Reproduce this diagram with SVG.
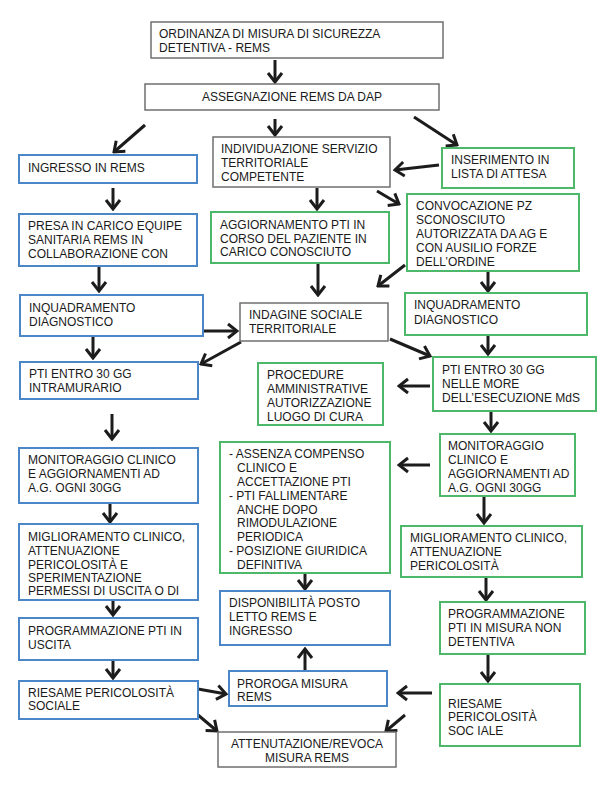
<svg xmlns="http://www.w3.org/2000/svg" width="606" height="793" viewBox="0 0 606 793">
<style>
  text { font-family: "Liberation Sans", Arial, sans-serif; font-size: 12px; fill: #1a1a1a; }
  .g { fill: #fff; stroke: #6f6f6f; stroke-width: 1.5; }
  .b { fill: #fff; stroke: #4a86c8; stroke-width: 2; }
  .n { fill: #fff; stroke: #4db86a; stroke-width: 2; }
  .c { text-anchor: middle; }
  .a { fill: none; stroke: #1c1c1c; stroke-width: 3; marker-end: url(#ah); }
</style>
<defs>
  <marker id="ah" markerUnits="userSpaceOnUse" viewBox="-11 -9 13 18" refX="0" refY="0" markerWidth="13" markerHeight="18" orient="auto">
    <path d="M-9,-7 L0,0 L-9,7" fill="none" stroke="#1c1c1c" stroke-width="3" stroke-linejoin="miter"/>
  </marker>
</defs>
<rect width="606" height="793" fill="#fff"/>

<g id="connectors">
  <path class="a" d="M275,60 L275,82"/>
  <path class="a" d="M145,125 L114,152"/>
  <path class="a" d="M275,119 L275,135"/>
  <path class="a" d="M414,117 L457,145"/>
  <path class="a" d="M439,165 L395,170"/>
  <path class="a" d="M317,188 L317,209"/>
  <path class="a" d="M377,191 L399,204"/>
  <path class="a" d="M113,188 L113,209"/>
  <path class="a" d="M99,267 L99,291"/>
  <path class="a" d="M318,264 L318,295"/>
  <path class="a" d="M405,265 L378,286"/>
  <path class="a" d="M488,272 L488,291"/>
  <path class="a" d="M203,331 L237,331"/>
  <path class="a" d="M93,337 L93,358"/>
  <path class="a" d="M241,342 L201,364"/>
  <path class="a" d="M390,339 L430,356"/>
  <path class="a" d="M488,336 L488,354"/>
  <path class="a" d="M430,386 L399,386"/>
  <path class="a" d="M112,414 L112,439"/>
  <path class="a" d="M491,411 L491,431"/>
  <path class="a" d="M430,465 L399,465"/>
  <path class="a" d="M110,504 L110,522"/>
  <path class="a" d="M484,497 L484,523"/>
  <path class="a" d="M305,574 L305,589"/>
  <path class="a" d="M305,670 L305,649"/>
  <path class="a" d="M113,601 L113,615"/>
  <path class="a" d="M486,578 L486,600"/>
  <path class="a" d="M113,661 L113,678"/>
  <path class="a" d="M488,655 L488,681"/>
  <path class="a" d="M198,689 L226,694"/>
  <path class="a" d="M432,693 L398,693"/>
  <path class="a" d="M198,715 L217,731"/>
  <path class="a" d="M405,715 L386,731"/>
</g>

<g id="n-ordinanza">
  <rect class="g" x="151" y="22" width="292" height="36"/>
  <text x="159" y="37.5">ORDINANZA DI MISURA DI SICUREZZA</text>
  <text x="159" y="51.5">DETENTIVA - REMS</text>
</g>
<g id="n-assegnazione">
  <rect class="g" x="145" y="84" width="294" height="26"/>
  <text class="c" x="292" y="100.5">ASSEGNAZIONE REMS DA DAP</text>
</g>
<g id="n-ingresso">
  <rect class="b" x="19" y="155" width="178" height="28"/>
  <text x="28" y="171.5">INGRESSO IN REMS</text>
</g>
<g id="n-individuazione">
  <rect class="g" x="213" y="137" width="177" height="50"/>
  <text x="221" y="153">INDIVIDUAZIONE SERVIZIO</text>
  <text x="221" y="167">TERRITORIALE</text>
  <text x="221" y="181">COMPETENTE</text>
</g>
<g id="n-inserimento">
  <rect class="n" x="442" y="148" width="132" height="40"/>
  <text x="451" y="164">INSERIMENTO IN</text>
  <text x="451" y="178">LISTA DI ATTESA</text>
</g>
<g id="n-presa">
  <rect class="b" x="19" y="214" width="178" height="52"/>
  <text x="28" y="230">PRESA IN CARICO EQUIPE</text>
  <text x="28" y="244">SANITARIA REMS IN</text>
  <text x="28" y="258">COLLABORAZIONE CON</text>
</g>
<g id="n-aggiornamento">
  <rect class="n" x="211" y="212" width="178" height="51"/>
  <text x="220" y="229">AGGIORNAMENTO PTI IN</text>
  <text x="220" y="242.5">CORSO DEL PAZIENTE IN</text>
  <text x="220" y="256">CARICO CONOSCIUTO</text>
</g>
<g id="n-convocazione">
  <rect class="n" x="407" y="194" width="172" height="77"/>
  <text x="416" y="210">CONVOCAZIONE PZ</text>
  <text x="416" y="224">SCONOSCIUTO</text>
  <text x="416" y="238">AUTORIZZATA DA AG E</text>
  <text x="416" y="252">CON AUSILIO FORZE</text>
  <text x="416" y="265.5">DELL’ORDINE</text>
</g>
<g id="n-inquadramento-l">
  <rect class="b" x="20" y="295" width="183" height="41"/>
  <text x="29" y="311.5">INQUADRAMENTO</text>
  <text x="29" y="326">DIAGNOSTICO</text>
</g>
<g id="n-indagine">
  <rect class="g" x="240" y="303" width="148" height="38"/>
  <text x="249" y="318.5">INDAGINE SOCIALE</text>
  <text x="249" y="333">TERRITORIALE</text>
</g>
<g id="n-inquadramento-r">
  <rect class="n" x="405" y="293" width="182" height="42"/>
  <text x="414" y="309">INQUADRAMENTO</text>
  <text x="414" y="323.5">DIAGNOSTICO</text>
</g>
<g id="n-pti-l">
  <rect class="b" x="20" y="362" width="178" height="37"/>
  <text x="29" y="378">PTI ENTRO 30 GG</text>
  <text x="29" y="391.5">INTRAMURARIO</text>
</g>
<g id="n-procedure">
  <rect class="n" x="258" y="363" width="125" height="62"/>
  <text x="267" y="378.5">PROCEDURE</text>
  <text x="267" y="392.5">AMMINISTRATIVE</text>
  <text x="267" y="406.5">AUTORIZZAZIONE</text>
  <text x="267" y="420.5">LUOGO DI CURA</text>
</g>
<g id="n-pti-r">
  <rect class="n" x="433" y="357" width="163" height="54"/>
  <text x="442" y="373.5">PTI ENTRO 30 GG</text>
  <text x="442" y="387.5">NELLE MORE</text>
  <text x="442" y="401.5">DELL’ESECUZIONE MdS</text>
</g>
<g id="n-monitoraggio-l">
  <rect class="b" x="19" y="448" width="179" height="55"/>
  <text x="28" y="464">MONITORAGGIO CLINICO</text>
  <text x="28" y="478">E AGGIORNAMENTI AD</text>
  <text x="28" y="492">A.G. OGNI 30GG</text>
</g>
<g id="n-condizioni">
  <rect class="n" x="220" y="442" width="170" height="131"/>
  <text x="229" y="457.5">- ASSENZA COMPENSO</text>
  <text x="237" y="471.5">CLINICO E</text>
  <text x="237" y="485.5">ACCETTAZIONE PTI</text>
  <text x="229" y="499.5">- PTI FALLIMENTARE</text>
  <text x="237" y="513.5">ANCHE DOPO</text>
  <text x="237" y="527">RIMODULAZIONE</text>
  <text x="237" y="541">PERIODICA</text>
  <text x="229" y="555">- POSIZIONE GIURIDICA</text>
  <text x="237" y="569">DEFINITIVA</text>
</g>
<g id="n-monitoraggio-r">
  <rect class="n" x="440" y="434" width="135" height="62"/>
  <text x="448" y="449.5">MONITORAGGIO</text>
  <text x="448" y="464">CLINICO E</text>
  <text x="448" y="477.5">AGGIORNAMENTI AD</text>
  <text x="448" y="491.5">A.G. OGNI 30GG</text>
</g>
<g id="n-miglioramento-l">
  <rect class="b" x="19" y="524" width="179" height="76"/>
  <text x="28" y="541">MIGLIORAMENTO CLINICO,</text>
  <text x="28" y="554.5">ATTENUAZIONE</text>
  <text x="28" y="568.5">PERICOLOSITÀ E</text>
  <text x="28" y="581.5">SPERIMENTAZIONE</text>
  <text x="28" y="595">PERMESSI DI USCITA O DI</text>
</g>
<g id="n-miglioramento-r">
  <rect class="n" x="401" y="526" width="181" height="51"/>
  <text x="410" y="542">MIGLIORAMENTO CLINICO,</text>
  <text x="410" y="556">ATTENUAZIONE</text>
  <text x="410" y="570">PERICOLOSITÀ</text>
</g>
<g id="n-disponibilita">
  <rect class="b" x="220" y="591" width="170" height="54"/>
  <text x="229" y="607">DISPONIBILITÀ POSTO</text>
  <text x="229" y="621">LETTO REMS E</text>
  <text x="229" y="635">INGRESSO</text>
</g>
<g id="n-programmazione-l">
  <rect class="b" x="19" y="618" width="179" height="42"/>
  <text x="28" y="634.5">PROGRAMMAZIONE PTI IN</text>
  <text x="28" y="648.5">USCITA</text>
</g>
<g id="n-programmazione-r">
  <rect class="n" x="440" y="602" width="145" height="52"/>
  <text x="448" y="617.5">PROGRAMMAZIONE</text>
  <text x="448" y="632">PTI IN MISURA NON</text>
  <text x="448" y="646">DETENTIVA</text>
</g>
<g id="n-riesame-l">
  <rect class="b" x="19" y="681" width="179" height="38"/>
  <text x="28" y="696.5">RIESAME PERICOLOSITÀ</text>
  <text x="28" y="710">SOCIALE</text>
</g>
<g id="n-proroga">
  <rect class="b" x="229" y="671" width="158" height="35"/>
  <text x="237" y="687.5">PROROGA MISURA</text>
  <text x="237" y="700.5">REMS</text>
</g>
<g id="n-riesame-r">
  <rect class="n" x="440" y="684" width="140" height="62"/>
  <text x="448" y="707.5">RIESAME</text>
  <text x="448" y="721">PERICOLOSITÀ</text>
  <text x="448" y="734.5">SOC IALE</text>
</g>
<g id="n-attenuazione">
  <rect class="g" x="218" y="732" width="178" height="35"/>
  <text class="c" x="307" y="747.5">ATTENUTAZIONE/REVOCA</text>
  <text class="c" x="307" y="761.5">MISURA REMS</text>
</g>
</svg>
